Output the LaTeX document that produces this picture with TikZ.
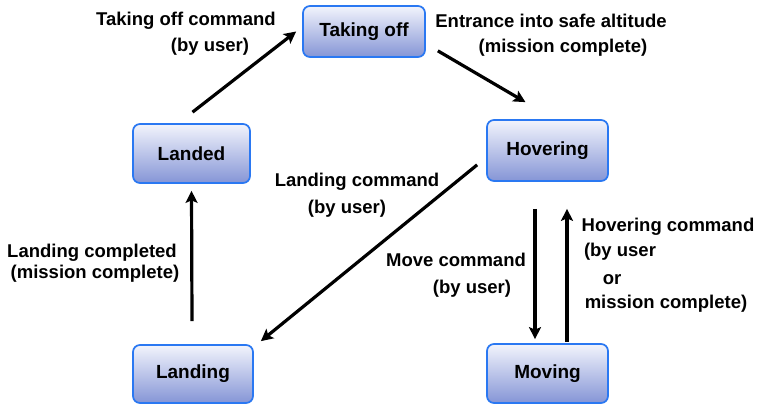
\documentclass[tikz,border=0pt]{standalone}
\usepackage{fontspec}
\setmainfont{Liberation Sans}
\usetikzlibrary{arrows.meta}
\definecolor{boxedge}{HTML}{2A78F2}
\definecolor{boxtop}{HTML}{F2F4FC}
\definecolor{boxbot}{HTML}{8595D6}
\tikzset{
  state/.style={draw=boxedge, line width=1.7pt, rounded corners=7pt,
    top color=boxtop, bottom color=boxbot, inner sep=0pt,
    font=\fontsize{19}{22}\selectfont\bfseries},
  arr/.style={line width=3.2pt, -{Stealth[length=12pt,width=12pt,inset=2.5pt]}},
  lbl/.style={anchor=base, inner sep=0pt, font=\fontsize{18.5}{22}\selectfont\bfseries}
}
\begin{document}
\begin{tikzpicture}[x=1pt,y=-1pt]
\useasboundingbox (0,0) rectangle (760,409);
\fill[white] (0,0) rectangle (760,409);
% states
\node[state, minimum width=122pt, minimum height=51pt] (takeoff) at (364,31.5) {Taking off};
\node[state, minimum width=117pt, minimum height=59pt] (landed) at (191.5,153.5) {Landed};
\node[state, minimum width=121pt, minimum height=61pt] (hovering) at (547.5,150.5) {Hovering};
\node[state, minimum width=121pt, minimum height=59pt] (moving) at (547.5,373.5) {Moving};
\node[state, minimum width=120pt, minimum height=58pt] (landing) at (193,374) {Landing};
% connectors
\draw[arr] ([shift={(1pt,11pt)}]landed.north) -- ([xshift=-6pt]takeoff.west);
\draw[arr] ([shift={(12pt,7pt)}]takeoff.south east) -- ([shift={(-22pt,17pt)}]hovering.north);
\draw[arr] ([shift={(-9pt,17pt)}]hovering.south west) -- ([shift={(7pt,3pt)}]landing.north east);
\draw[arr] ([shift={(-12.5pt,-27pt)}]hovering.south) -- ([shift={(-12.5pt,4pt)}]moving.north);
\draw[arr] ([shift={(19.5pt,1pt)}]moving.north) -- ([shift={(19.5pt,-27pt)}]hovering.south);
\draw[arr] ([shift={(-1pt,23pt)}]landing.north) -- ([yshift=-7pt]landed.south);
% labels
\node[lbl] (l1a) at (186,26) {Taking off command};
\node[lbl] (l1b) at (210,52) {(by user)};
\node[lbl] (l2a) at (551,28) {Entrance into safe altitude};
\node[lbl] (l2b) at (563,53) {(mission complete)};
\node[lbl] (l3a) at (357,186) {Landing command};
\node[lbl] (l3b) at (347,213) {(by user)};
\node[lbl] (l4a) at (456,266) {Move command};
\node[lbl] (l4b) at (472,293) {(by user)};
\node[lbl] (l5a) at (92,257) {Landing completed};
\node[lbl] (l5b) at (95,278) {(mission complete)};
\node[lbl] (l6a) at (668,231) {Hovering command};
\node[lbl] (l6b) at (620,256) {(by user};
\node[lbl] (l6c) at (612,284) {or};
\node[lbl] (l6d) at (666,308) {mission complete)};
\end{tikzpicture}
\end{document}
